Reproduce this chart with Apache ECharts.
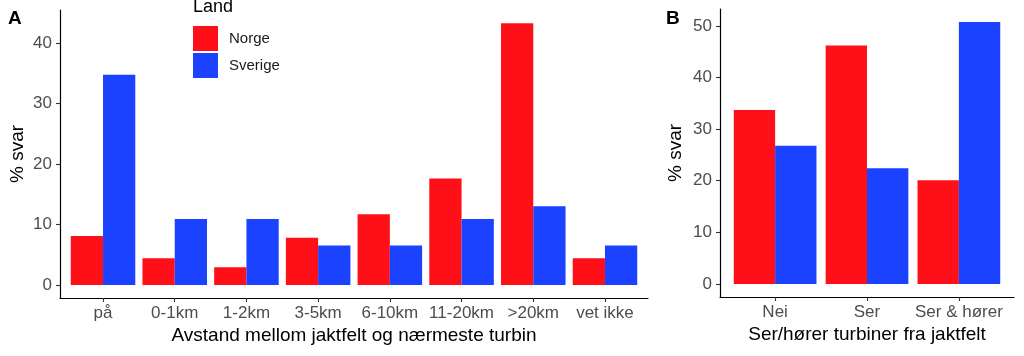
<!DOCTYPE html>
<html>
<head>
<meta charset="utf-8">
<script src="https://cdn.jsdelivr.net/npm/echarts@6/dist/echarts.min.js"></script>
<style>
html,body{margin:0;padding:0;background:#fff;}
#c{width:1024px;height:356px;}
</style>
</head>
<body>
<div id="c"></div>
<script>
const catsA = ['på','0-1km','1-2km','3-5km','6-10km','11-20km','>20km','vet ikke'];
const norgeA = [8.1, 4.4, 2.9, 7.8, 11.7, 17.6, 43.3, 4.4];
const sverigeA = [34.8, 10.9, 10.9, 6.5, 6.5, 10.9, 13.0, 6.5];
const ticksA = [0, 10, 20, 30, 40];

const catsB = ['Nei','Ser','Ser & hører'];
const norgeB = [33.7, 46.2, 20.1];
const sverigeB = [26.8, 22.4, 50.8];
const ticksB = [0, 10, 20, 30, 40, 50];

const RED = '#FF0F17', BLUE = '#1A42FF';
const FONT = '"Liberation Sans", Arial, Helvetica, sans-serif';

function idx(a){ return a.map((_, i) => i); }
function pts(a){ return a.map((v, i) => [i, v]); }

function xAxisFor(gridIndex, cats, name){
  return {
    type: 'value', gridIndex: gridIndex,
    min: -0.6, max: cats.length - 1 + 0.6,
    splitLine: {show:false},
    axisLine: {show:true, onZero:false, lineStyle:{color:'#000', width:1.2}},
    axisTick: {show:true, length:4, customValues: idx(cats), lineStyle:{color:'#333', width:1.1}},
    axisLabel: {show:true, customValues: idx(cats), formatter: v => cats[Math.round(v)],
                color:'#4D4D4D', fontSize:17, fontFamily:FONT, margin:7},
    name: name, nameLocation:'middle', nameGap:28, nameMoveOverlap:false,
    nameTextStyle: {color:'#000', fontSize:19, fontFamily:FONT}
  };
}
function yAxisFor(gridIndex, ticks, mn, mx, gap){
  return {
    type: 'value', gridIndex: gridIndex, min: mn, max: mx,
    splitLine: {show:false},
    axisLine: {show:true, onZero:false, lineStyle:{color:'#000', width:1.2}},
    axisTick: {show:true, length:4, customValues: ticks, lineStyle:{color:'#333', width:1.1}},
    axisLabel: {show:true, customValues: ticks, color:'#4D4D4D', fontSize:17, fontFamily:FONT, margin:8},
    name: '% svar', nameLocation:'middle', nameGap:gap, nameRotate:90, nameMoveOverlap:false,
    nameTextStyle: {color:'#000', fontSize:19, fontFamily:FONT}
  };
}

const chart = echarts.init(document.getElementById('c'), null, {renderer:'canvas'});
chart.setOption({
  animation: false,
  backgroundColor: '#fff',
  title: [
    {text:'A', left:8, top:9, padding:0, textStyle:{fontSize:19, fontWeight:'bold', color:'#000', fontFamily:FONT}},
    {text:'B', left:666, top:9, padding:0, textStyle:{fontSize:19, fontWeight:'bold', color:'#000', fontFamily:FONT}},
    {text:'Land', left:193, top:-2, padding:0, textStyle:{fontSize:18, fontWeight:'normal', color:'#000', fontFamily:FONT}}
  ],
  legend: {
    orient:'vertical', left:193, top:26, padding:0, itemWidth:25, itemHeight:25, itemGap:2,
    icon:'rect', data:['Norge','Sverige'],
    textStyle:{fontSize:15, color:'#1a1a1a', fontFamily:FONT, padding:[0,0,0,6]}
  },
  grid: [
    {left:60, top:10, width:588, height:288, containLabel:false, outerBoundsMode:'none'},
    {left:720, top:9, width:294, height:288, containLabel:false, outerBoundsMode:'none'}
  ],
  xAxis: [
    xAxisFor(0, catsA, 'Avstand mellom jaktfelt og nærmeste turbin'),
    xAxisFor(1, catsB, 'Ser/hører turbiner fra jaktfelt')
  ],
  yAxis: [
    yAxisFor(0, ticksA, -2.17, 45.5, 33),
    yAxisFor(1, ticksB, -2.54, 53.3, 35)
  ],
  series: [
    {name:'Norge', type:'bar', xAxisIndex:0, yAxisIndex:0, data:pts(norgeA), barWidth:'45%', barGap:'0%', itemStyle:{color:RED}},
    {name:'Sverige', type:'bar', xAxisIndex:0, yAxisIndex:0, data:pts(sverigeA), barWidth:'45%', barGap:'0%', itemStyle:{color:BLUE}},
    {name:'Norge', type:'bar', xAxisIndex:1, yAxisIndex:1, data:pts(norgeB), barWidth:'45%', barGap:'0%', itemStyle:{color:RED}},
    {name:'Sverige', type:'bar', xAxisIndex:1, yAxisIndex:1, data:pts(sverigeB), barWidth:'45%', barGap:'0%', itemStyle:{color:BLUE}}
  ]
});
</script>
</body>
</html>
